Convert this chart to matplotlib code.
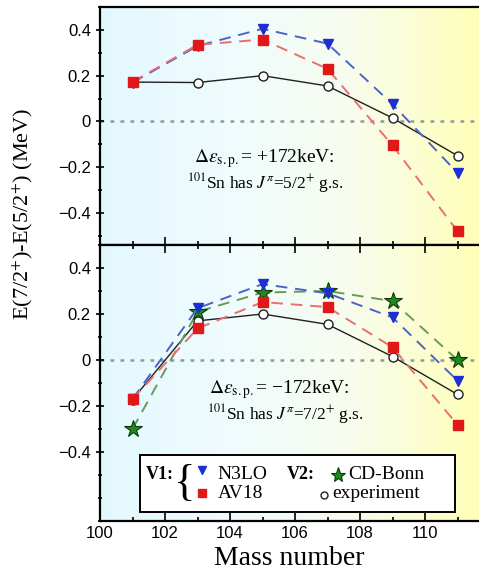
import matplotlib
matplotlib.use("Agg")
import matplotlib.pyplot as plt
import matplotlib.ticker as ticker
from matplotlib.patches import Rectangle
import numpy as np

# data
mass = [101, 103, 105, 107, 109, 111]

# upper panel: delta e_sp = +172 keV
top_n3lo = [0.17, 0.33, 0.405, 0.34, 0.075, -0.225]
top_av18 = [0.173, 0.335, 0.358, 0.23, -0.105, -0.48]
top_exp = [0.172, 0.17, 0.2, 0.155, 0.015, -0.15]

# lower panel: delta e_sp = -172 keV
bot_n3lo = [-0.17, 0.225, 0.33, 0.29, 0.185, -0.09]
bot_av18 = [-0.17, 0.137, 0.252, 0.23, 0.055, -0.282]
bot_cdbonn = [-0.3, 0.21, 0.293, 0.3, 0.256, 0.0]
bot_exp = [-0.172, 0.17, 0.2, 0.155, 0.015, -0.15]

xticks = [100, 102, 104, 106, 108, 110]
yticks = [-0.4, -0.2, 0, 0.2, 0.4]

serif = ['Liberation Serif', 'DejaVu Serif']
sans = ['Liberation Sans', 'DejaVu Sans']
plt.rcParams['mathtext.fontset'] = 'stix'

c_blue = '#1c2fd0'
c_red = '#e01818'
c_green = '#1e8a1e'
l_blue = '#4a64c8'
l_red = '#e87070'
l_green = '#6a9a5a'


def fmt(v, pos):
    if abs(v) < 1e-9:
        return '0'
    return ('%.1f' % v).replace('-', '\u2212')


def background(ax):
    # light cyan on the left, fading to pale yellow on the right
    stops = np.array([[0.89, 0.975, 1.0], [0.94, 0.985, 0.99],
                      [0.97, 0.99, 0.94], [1.0, 1.0, 0.72]])
    pos = [0.0, 0.35, 0.65, 1.0]
    t = np.linspace(0, 1, 300)
    grad = np.stack([np.interp(t, pos, stops[:, k]) for k in range(3)], axis=-1)
    ax.imshow(grad[np.newaxis, :, :], extent=[0, 1, 0, 1], transform=ax.transAxes,
              aspect='auto', zorder=0, interpolation='bilinear')


def style(ax, ylim):
    ax.set_xlim(100, 111.66)
    ax.set_ylim(*ylim)
    ax.set_xticks(xticks)
    ax.set_yticks(yticks)
    ax.xaxis.set_minor_locator(ticker.MultipleLocator(1))
    ax.yaxis.set_minor_locator(ticker.MultipleLocator(0.1))
    ax.yaxis.set_major_formatter(ticker.FuncFormatter(fmt))
    ax.spines['right'].set_visible(False)
    for s in ['left', 'top', 'bottom']:
        ax.spines[s].set_linewidth(1.6)
    ax.tick_params(axis='both', which='both', direction='in', width=1.2)
    ax.tick_params(axis='both', which='major', length=6)
    ax.tick_params(axis='both', which='minor', length=3)
    ax.tick_params(axis='y', which='both', direction='inout', labelsize=12)
    ax.tick_params(axis='x', labelsize=12)
    for lab in ax.get_xticklabels() + ax.get_yticklabels():
        lab.set_fontfamily(sans)
    ax.axhline(0, color='#8c9c9c', ls=(0, (1.5, 2.5)), lw=1.8, zorder=1)
    background(ax)


fig = plt.figure(figsize=(4.79, 5.85), dpi=100)
ax1 = fig.add_axes([0.2088, 0.5812, 0.7912, 0.4068])
ax2 = fig.add_axes([0.2088, 0.1094, 0.7912, 0.4718])

# upper panel
style(ax1, (-0.54, 0.5))
ax1.tick_params(axis='x', which='both', top=False, labelbottom=False)
ax1.plot(mass, top_exp, '-', color='#202020', lw=1.0, marker='o', ms=6.5,
         mfc='white', mec='#202020', mew=1.0, zorder=3)
ax1.plot(mass, top_n3lo, '--', color=l_blue, lw=1.4, dashes=(6, 4), marker='v',
         ms=7, mfc=c_blue, mec=c_blue, zorder=4)
ax1.plot(mass, top_av18, '--', color=l_red, lw=1.4, dashes=(6, 4), marker='s',
         ms=6.5, mfc=c_red, mec=c_red, zorder=5)
ax1.text(105.05, -0.163, r'$\Delta\varepsilon_{\mathrm{s.p.}}$= +172keV:',
         ha='center', va='center', fontsize=14, family=serif, zorder=6)
ax1.text(105.1, -0.268, r'$^{101}$Sn has $J^{\pi}$=5/2$^{+}$ g.s.',
         ha='center', va='center', fontsize=12.5, family=serif, zorder=6)

# lower panel
style(ax2, (-0.70, 0.5))
ax2.tick_params(axis='x', which='both', top=True)
ax2.plot(mass, bot_exp, '-', color='#202020', lw=1.0, marker='o', ms=6.5,
         mfc='white', mec='#202020', mew=1.0, zorder=3)
ax2.plot(mass, bot_cdbonn, '--', color=l_green, lw=1.4, dashes=(6, 4), marker='*',
         ms=13, mfc=c_green, mec='#0a3a0a', mew=0.8, zorder=4)
ax2.plot(mass, bot_n3lo, '--', color=l_blue, lw=1.4, dashes=(6, 4), marker='v',
         ms=7, mfc=c_blue, mec=c_blue, zorder=5)
ax2.plot(mass, bot_av18, '--', color=l_red, lw=1.4, dashes=(6, 4), marker='s',
         ms=6.5, mfc=c_red, mec=c_red, zorder=6)
ax2.text(105.5, -0.128, r'$\Delta\varepsilon_{\mathrm{s.p.}}$= ' + '\u2212172keV:',
         ha='center', va='center', fontsize=14, family=serif, zorder=7)
ax2.text(105.7, -0.234, r'$^{101}$Sn has $J^{\pi}$=7/2$^{+}$ g.s.',
         ha='center', va='center', fontsize=12.5, family=serif, zorder=7)

# hand-made legend box
tr = ax2.transAxes
ax2.add_patch(Rectangle((0.1055, 0.0326), 0.831, 0.207, transform=tr, fc='white',
                        ec='black', lw=1.4, zorder=8))
ax2.text(0.158, 0.170, 'V1:', transform=tr, ha='center', va='center',
         fontsize=13, fontweight='bold', family=serif, zorder=9)
ax2.text(0.222, 0.135, '{', transform=tr, ha='center', va='center',
         fontsize=32, family=serif, zorder=9)
ax2.plot([0.269], [0.185], 'v', transform=tr, ms=6, mfc=c_blue, mec=c_blue, zorder=9)
ax2.text(0.311, 0.170, 'N3LO', transform=tr, ha='left', va='center',
         fontsize=14, family=serif, zorder=9)
ax2.plot([0.269], [0.101], 's', transform=tr, ms=6, mfc=c_red, mec=c_red, zorder=9)
ax2.text(0.311, 0.101, 'AV18', transform=tr, ha='left', va='center',
         fontsize=14, family=serif, zorder=9)
ax2.text(0.493, 0.170, 'V2:', transform=tr, ha='left', va='center',
         fontsize=13, fontweight='bold', family=serif, zorder=9)
ax2.plot([0.628], [0.167], '*', transform=tr, ms=11, mfc=c_green, mec='#0a3a0a',
         mew=0.8, zorder=9)
ax2.text(0.654, 0.170, 'CD-Bonn', transform=tr, ha='left', va='center',
         fontsize=14, family=serif, zorder=9)
ax2.plot([0.591], [0.094], 'o', transform=tr, ms=5, mfc='white', mec='#202020',
         mew=1.0, zorder=9)
ax2.text(0.612, 0.098, 'experiment', transform=tr, ha='left', va='center',
         fontsize=14, family=serif, zorder=9)

ax2.set_xlabel('Mass number', fontsize=20, family=serif, labelpad=4)
fig.text(0.048, 0.634, r'E(7/2$^{+}$)-E(5/2$^{+}$) (MeV)', rotation=90,
         ha='center', va='center', fontsize=16, family=serif)

fig.savefig('out.png', dpi=100)
